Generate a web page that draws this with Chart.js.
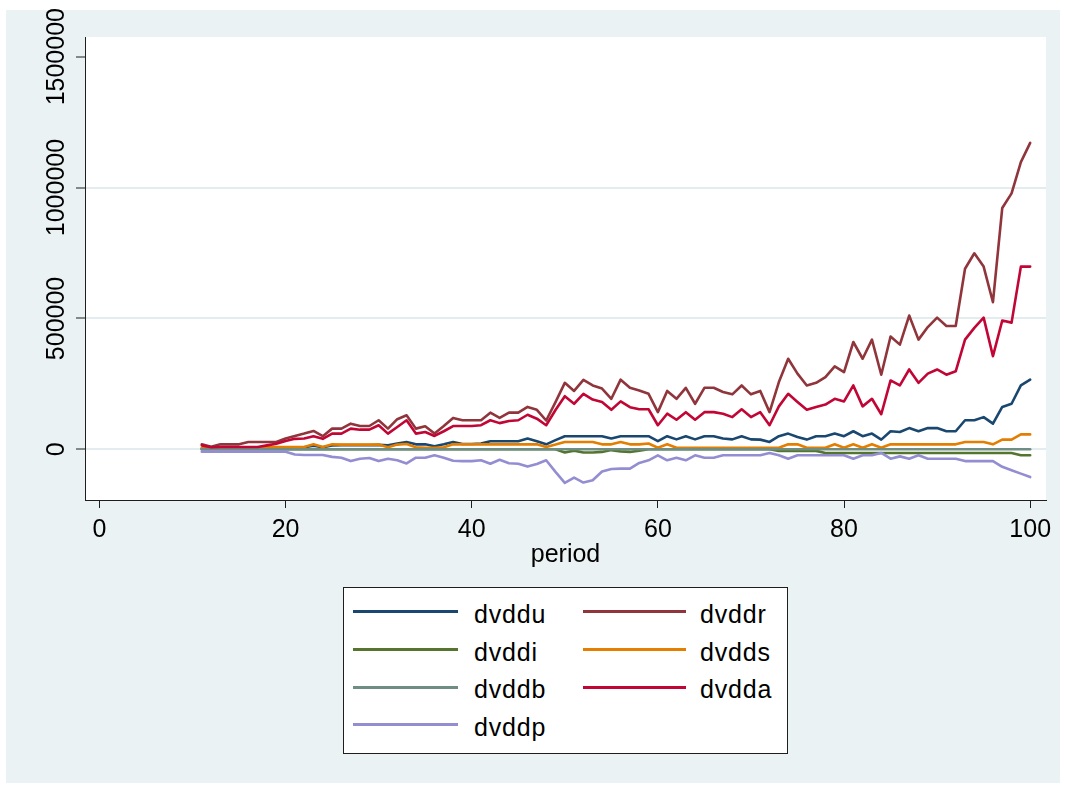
<!DOCTYPE html>
<html>
<head>
<meta charset="utf-8">
<title>dvdd series by period</title>
<script src="https://cdn.jsdelivr.net/npm/chart.js@4.4.1/dist/chart.umd.min.js"></script>
<style>
  html, body { margin: 0; padding: 0; background: #ffffff; }
  #wrap { position: relative; width: 1066px; height: 787px; overflow: hidden; }
  #chart { position: absolute; left: 0; top: 0; }
  #legend {
    position: absolute; left: 343px; top: 587px; width: 443px; height: 165px;
    border: 1px solid #1e1e1e; background: #ffffff;
    font-family: "Liberation Sans", Arial, sans-serif; font-size: 25px; color: #000;
  }
  #legend .swatch { position: absolute; height: 3px; }
  #legend .label { position: absolute; line-height: 30px; white-space: nowrap; letter-spacing: 0.8px; }
</style>
</head>
<body>
<div id="wrap">
  <canvas id="chart" width="1066" height="787"></canvas>
  <div id="legend"></div>
</div>
<script>
// ---- data -------------------------------------------------------------
const periods = [
  11,12,13,14,15,16,17,18,19,20,
  21,22,23,24,25,26,27,28,29,30,
  31,32,33,34,35,36,37,38,39,40,
  41,42,43,44,45,46,47,48,49,50,
  51,52,53,54,55,56,57,58,59,60,
  61,62,63,64,65,66,67,68,69,70,
  71,72,73,74,75,76,77,78,79,80,
  81,82,83,84,85,86,87,88,89,90,
  91,92,93,94,95,96,97,98,99,100
];

const dvddu = [
  3000,3000,3000,3000,3000,3000,3000,6000,7000,7000,
  8000,8000,14000,8000,15000,16000,16000,16000,16000,17000,
  15000,22000,28000,19000,19000,12000,19000,28000,20000,20000,
  22000,31000,31000,31000,31000,41000,31000,19000,35000,50000,
  50000,50000,50000,50000,41000,50000,50000,50000,50000,31000,
  50000,38000,50000,38000,50000,50000,41000,38000,50000,38000,
  37000,28000,50000,60000,47000,37000,50000,50000,60000,50000,
  69000,50000,60000,37000,69000,66000,81000,69000,81000,81000,
  69000,69000,111000,111000,123000,98000,162000,174000,244000,266000
];

const dvddr = [
  19000,10000,19000,19000,19000,28000,28000,28000,28000,41000,
  51000,60000,70000,50000,79000,79000,98000,89000,89000,111000,
  79000,115000,130000,79000,88000,60000,89000,120000,111000,111000,
  111000,140000,120000,140000,140000,162000,151000,110000,180000,254000,
  223000,265000,244000,232000,193000,266000,235000,225000,212000,142000,
  223000,193000,235000,174000,235000,235000,219000,210000,244000,210000,
  223000,142000,257000,346000,289000,244000,254000,276000,317000,295000,
  410000,346000,419000,285000,431000,400000,511000,419000,467000,503000,
  471000,471000,690000,749000,698000,562000,922000,978000,1097000,1171000
];

const dvddi = [
  0,0,0,0,0,0,0,0,0,0,
  0,0,0,0,0,0,0,0,0,0,
  0,0,0,0,0,0,0,0,0,0,
  0,0,0,0,0,0,0,0,0,-12000,
  -5000,-12000,-12000,-10000,-3000,-8000,-10000,-5000,0,0,
  0,0,0,0,0,0,0,0,0,0,
  0,0,-6000,-6000,-6000,-6000,-6000,-14000,-14000,-14000,
  -14000,-14000,-14000,-14000,-14000,-14000,-14000,-14000,-14000,-14000,
  -14000,-14000,-14000,-14000,-14000,-14000,-14000,-14000,-23000,-23000
];

const dvdds = [
  5000,5000,5000,5000,5000,5000,5000,9000,9000,9000,
  9000,9000,19000,9000,19000,18000,18000,18000,18000,18000,
  8000,18000,20000,8000,6000,6000,8000,19000,19000,19000,
  19000,19000,19000,19000,19000,19000,19000,9000,18000,28000,
  28000,28000,28000,19000,19000,28000,19000,19000,22000,6000,
  19000,6000,6000,6000,6000,6000,6000,6000,6000,6000,
  6000,6000,6000,19000,19000,6000,6000,6000,19000,6000,
  19000,6000,19000,6000,19000,19000,19000,19000,19000,19000,
  19000,19000,28000,28000,28000,19000,37000,37000,57000,57000
];

const dvddb = [
  0,0,0,0,0,0,0,0,0,0,
  0,0,0,0,0,0,0,0,0,0,
  0,0,0,0,0,0,0,0,0,0,
  0,0,0,0,0,0,0,0,0,0,
  0,0,0,0,0,0,0,0,0,0,
  0,0,0,0,0,0,0,0,0,0,
  0,0,0,0,0,0,0,0,0,0,
  0,0,0,0,0,0,0,0,0,0,
  0,0,0,0,0,0,0,0,0,0
];

const dvdda = [
  15000,8000,9000,9000,9000,9000,9000,15000,21000,32000,
  40000,41000,50000,40000,60000,60000,79000,75000,75000,92000,
  60000,85000,111000,60000,66000,51000,69000,89000,89000,89000,
  92000,111000,100000,108000,111000,132000,117000,92000,150000,203000,
  174000,212000,190000,181000,151000,183000,161000,153000,153000,92000,
  136000,113000,142000,113000,142000,142000,136000,123000,153000,123000,
  142000,92000,164000,212000,181000,151000,162000,171000,193000,183000,
  244000,164000,193000,134000,263000,244000,305000,254000,289000,305000,
  285000,298000,419000,464000,503000,356000,492000,484000,698000,698000
];

const dvddp = [
  -9000,-9000,-9000,-9000,-9000,-9000,-9000,-9000,-9000,-9000,
  -20000,-22000,-22000,-22000,-29000,-32000,-45000,-36000,-33000,-45000,
  -36000,-42000,-54000,-32000,-32000,-23000,-32000,-44000,-45000,-45000,
  -42000,-55000,-40000,-53000,-55000,-66000,-56000,-42000,-86000,-128000,
  -108000,-127000,-118000,-85000,-75000,-74000,-74000,-52000,-42000,-23000,
  -42000,-32000,-42000,-23000,-32000,-32000,-23000,-23000,-23000,-23000,
  -23000,-14000,-23000,-36000,-23000,-23000,-23000,-23000,-23000,-23000,
  -36000,-23000,-23000,-14000,-36000,-27000,-36000,-23000,-36000,-36000,
  -36000,-36000,-45000,-45000,-45000,-45000,-67000,-80000,-93000,-106000
];

const seriesNames = ['dvddu', 'dvddr', 'dvddi', 'dvdds', 'dvddb', 'dvdda', 'dvddp'];
const seriesValues = [dvddu, dvddr, dvddi, dvdds, dvddb, dvdda, dvddp];
const xTicks = [0, 20, 40, 60, 80, 100];
const yTicks = [0, 500000, 1000000, 1500000];
const xTitle = 'period';

// ---- styling ----------------------------------------------------------
const seriesColors = ['#1a476f', '#90353b', '#55752f', '#e37e00', '#6e8e84', '#c10534', '#938dd2'];
const FONT = '"Liberation Sans", Arial, Helvetica, sans-serif';
const AXIS_COLOR = '#1e1e1e';
const GRID_COLOR = '#e3edef';
const REGION_COLOR = '#eaf2f3';

Chart.defaults.font.family = FONT;
Chart.defaults.color = '#000';

// graph region (light bluish) and white plot region
const regionFill = {
  id: 'regionFill',
  beforeDraw(chart) {
    const { ctx, chartArea: a } = chart;
    ctx.save();
    ctx.fillStyle = '#ffffff';
    ctx.fillRect(0, 0, chart.width, chart.height);
    ctx.fillStyle = REGION_COLOR;
    ctx.fillRect(6, 10, chart.width - 12, chart.height - 14);
    ctx.fillStyle = '#ffffff';
    ctx.fillRect(a.left, a.top, a.right - a.left, a.bottom - a.top);
    ctx.restore();
  }
};

// vertical (rotated) labels for the y axis ticks
const rotatedYLabels = {
  id: 'rotatedYLabels',
  afterDraw(chart) {
    const s = chart.scales.y;
    const ctx = chart.ctx;
    ctx.save();
    ctx.font = '25px ' + FONT;
    ctx.fillStyle = '#000';
    ctx.textAlign = 'center';
    ctx.textBaseline = 'alphabetic';
    s.ticks.forEach(t => {
      const py = s.getPixelForValue(t.value);
      ctx.save();
      ctx.translate(s.right - 21, py);
      ctx.rotate(-Math.PI / 2);
      ctx.fillText(String(t.value), 0, 0);
      ctx.restore();
    });
    ctx.restore();
  }
};

const n = seriesNames.length;
const datasets = seriesNames.map((name, i) => ({
  label: name,
  data: periods.map((p, k) => ({ x: p, y: seriesValues[i][k] })),
  borderColor: seriesColors[i],
  backgroundColor: seriesColors[i],
  borderWidth: 2.6,
  pointRadius: 0,
  tension: 0,
  fill: false,
  borderJoinStyle: 'round',
  borderCapStyle: 'round',
  order: n - i   // later series are drawn on top
}));

new Chart(document.getElementById('chart'), {
  type: 'line',
  data: { datasets },
  plugins: [regionFill, rotatedYLabels],
  options: {
    responsive: false,
    animation: false,
    events: [],
    layout: { padding: { left: 0, right: 20, top: 37, bottom: 207 } },
    plugins: { legend: { display: false }, tooltip: { enabled: false } },
    scales: {
      x: {
        type: 'linear',
        min: -1.55,
        max: 101.7,
        afterBuildTicks: s => { s.ticks = xTicks.map(v => ({ value: v })); },
        afterFit: s => { s.height = 80; },
        ticks: { font: { size: 25 }, color: '#000', padding: 7, maxRotation: 0, callback: v => String(v) },
        grid: { drawOnChartArea: false, drawTicks: true, tickLength: 8, tickColor: AXIS_COLOR, tickWidth: 1 },
        border: { display: true, color: AXIS_COLOR, width: 1 },
        title: { display: true, text: xTitle, font: { size: 25 }, color: '#000', padding: { top: 0, bottom: 10 } }
      },
      y: {
        type: 'linear',
        min: -193700,
        max: 1575300,
        afterBuildTicks: s => { s.ticks = yTicks.map(v => ({ value: v })); },
        afterFit: s => { s.width = 85; },
        ticks: { display: false },
        grid: {
          drawOnChartArea: true,
          drawTicks: true,
          tickLength: 9,
          tickColor: AXIS_COLOR,
          tickWidth: 1,
          lineWidth: 2,
          color: c => (c.tick && c.tick.value === yTicks[yTicks.length - 1]) ? 'rgba(0,0,0,0)' : GRID_COLOR
        },
        border: { display: true, color: AXIS_COLOR, width: 1 }
      }
    }
  }
});

// two-column legend box below the plot
const legend = document.getElementById('legend');
seriesNames.forEach((name, i) => {
  const col = i % 2, row = Math.floor(i / 2);
  const cy = 23.7 + row * 37.7;
  const sw = document.createElement('div');
  sw.className = 'swatch';
  sw.style.left = (col === 0 ? 9 : 239) + 'px';
  sw.style.width = (col === 0 ? 105 : 103) + 'px';
  sw.style.top = (cy - 1.5) + 'px';
  sw.style.background = seriesColors[i];
  legend.appendChild(sw);
  const lb = document.createElement('div');
  lb.className = 'label';
  lb.style.left = (col === 0 ? 130 : 356) + 'px';
  lb.style.top = (cy - 12.7) + 'px';
  lb.textContent = name;
  legend.appendChild(lb);
});
</script>
</body>
</html>
